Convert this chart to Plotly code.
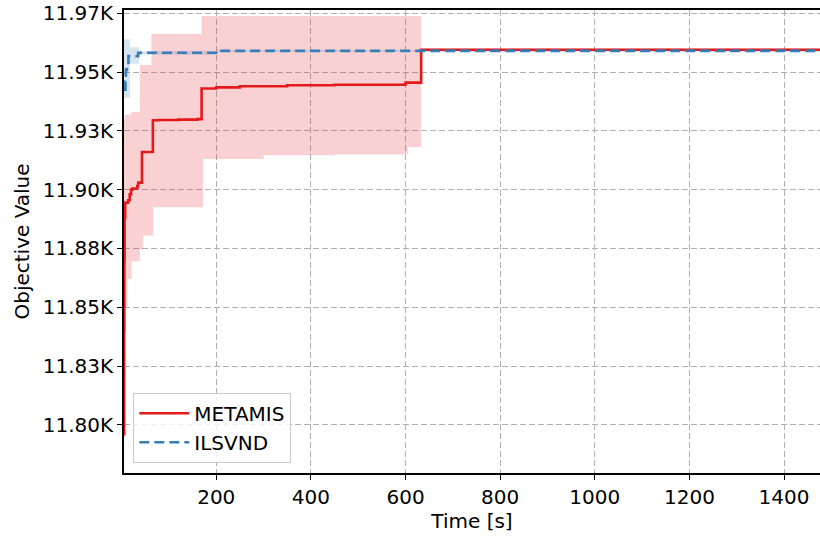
import plotly.graph_objects as go

# ---- data ----
metamis_t = [4.9, 5.3, 5.7, 6.2, 7.5, 14, 17, 20, 23, 33, 35, 43, 66, 80, 120, 160, 169, 200, 250, 350, 450, 600, 633, 1480]
metamis_mean = [11796, 11840, 11870, 11888, 11894.5, 11895.5, 11898, 11900, 11900.5, 11901.5, 11903, 11916, 11929.5, 11929.6,
                11929.8, 11930, 11943, 11943.5, 11944, 11944.4, 11944.6, 11945.5, 11959.5, 11959.5]

metamis_band_t = [4.9, 7, 12.5, 20, 21, 38.5, 45.5, 63, 67, 169, 172, 300, 450, 600, 605, 633, 1480]
metamis_upper = [11930, 11932, 11932, 11933, 11933, 11953, 11953, 11966.2, 11966.2, 11973.8, 11973.8, 11973.8, 11973.8,
                 11973.8, 11973.8, 11960.0, 11960.0]
metamis_lower = [11795, 11850, 11862, 11862, 11869.5, 11874.5, 11880.5, 11880.5, 11892.5, 11892.5, 11913, 11914.6, 11915,
                 11915.3, 11918.1, 11959.0, 11959.0]

ilsvnd_t = [4.9, 8, 9, 11.2, 14.4, 35, 200, 1480]
ilsvnd_mean = [11942.5, 11946, 11951, 11953, 11956.8, 11958.2, 11959.0, 11958.9]

ilsvnd_band_t = [4.9, 17.7, 37, 200, 1480]
ilsvnd_upper = [11964.0, 11960.6, 11959.0, 11959.5, 11959.4]
ilsvnd_lower = [11939.0, 11953.5, 11957.4, 11958.5, 11958.4]

y_ticks = [11800, 11825, 11850, 11875, 11900, 11925, 11950, 11975]
y_tick_labels = ["11.80K", "11.83K", "11.85K", "11.88K", "11.90K", "11.93K", "11.95K", "11.97K"]
x_ticks = [200, 400, 600, 800, 1000, 1200, 1400]

RED = "#e41a1c"
BLUE = "#377eb8"
FONT = "DejaVu Sans"
FS = 20

fig = go.Figure()

# bands
fig.add_trace(go.Scatter(x=metamis_band_t, y=metamis_lower, mode="lines", line=dict(width=0, shape="hv"),
                         showlegend=False, hoverinfo="skip"))
fig.add_trace(go.Scatter(x=metamis_band_t, y=metamis_upper, mode="lines", line=dict(width=0, shape="hv"),
                         fill="tonexty", fillcolor="rgba(228,26,28,0.2)", showlegend=False, hoverinfo="skip"))
fig.add_trace(go.Scatter(x=ilsvnd_band_t, y=ilsvnd_lower, mode="lines", line=dict(width=0, shape="hv"),
                         showlegend=False, hoverinfo="skip"))
fig.add_trace(go.Scatter(x=ilsvnd_band_t, y=ilsvnd_upper, mode="lines", line=dict(width=0, shape="hv"),
                         fill="tonexty", fillcolor="rgba(55,126,184,0.2)", showlegend=False, hoverinfo="skip"))

# lines
fig.add_trace(go.Scatter(x=metamis_t, y=metamis_mean, mode="lines", name="METAMIS",
                         line=dict(color=RED, width=2.6, shape="hv"), legendgroup="a"))
fig.add_trace(go.Scatter(x=ilsvnd_t, y=ilsvnd_mean, mode="lines", name="ILSVND",
                         line=dict(color=BLUE, width=2.6, shape="hv", dash="10px,5px"), legendgroup="b"))

fig.update_layout(
    width=820, height=540,
    margin=dict(l=124, r=0, t=10, b=67),
    paper_bgcolor="white", plot_bgcolor="white",
    font=dict(family=FONT, size=FS, color="#000000"),
    legend=dict(x=0.0134, y=0.022, xanchor="left", yanchor="bottom",
                bgcolor="rgba(255,255,255,0.8)", bordercolor="#cccccc", borderwidth=1,
                font=dict(family=FONT, size=FS), tracegroupgap=0, itemwidth=50),
    xaxis=dict(range=[5, 1476], tickvals=x_ticks, ticks="outside", ticklen=5, tickcolor="black",
               showline=True, linecolor="black", linewidth=1.6, mirror=True, automargin=False,
               showgrid=True, gridcolor="#b0b0b0", griddash="6px,3px", gridwidth=1, zeroline=False,
               title=dict(text="Time [s]", font=dict(size=FS), standoff=6)),
    yaxis=dict(range=[11779.5, 11976.4], tickvals=y_ticks, ticktext=y_tick_labels, ticks="outside", ticklen=5,
               tickcolor="black", showline=True, linecolor="black", linewidth=1.6, automargin=False,
               showgrid=True, gridcolor="#b0b0b0", griddash="6px,3px", gridwidth=1, zeroline=False,
               title=dict(text="Objective Value", font=dict(size=FS), standoff=8)),
)

fig.write_html("out.html", config={"displayModeBar": False},
               post_script="document.body.style.margin='0px';document.body.style.overflow='hidden';")
